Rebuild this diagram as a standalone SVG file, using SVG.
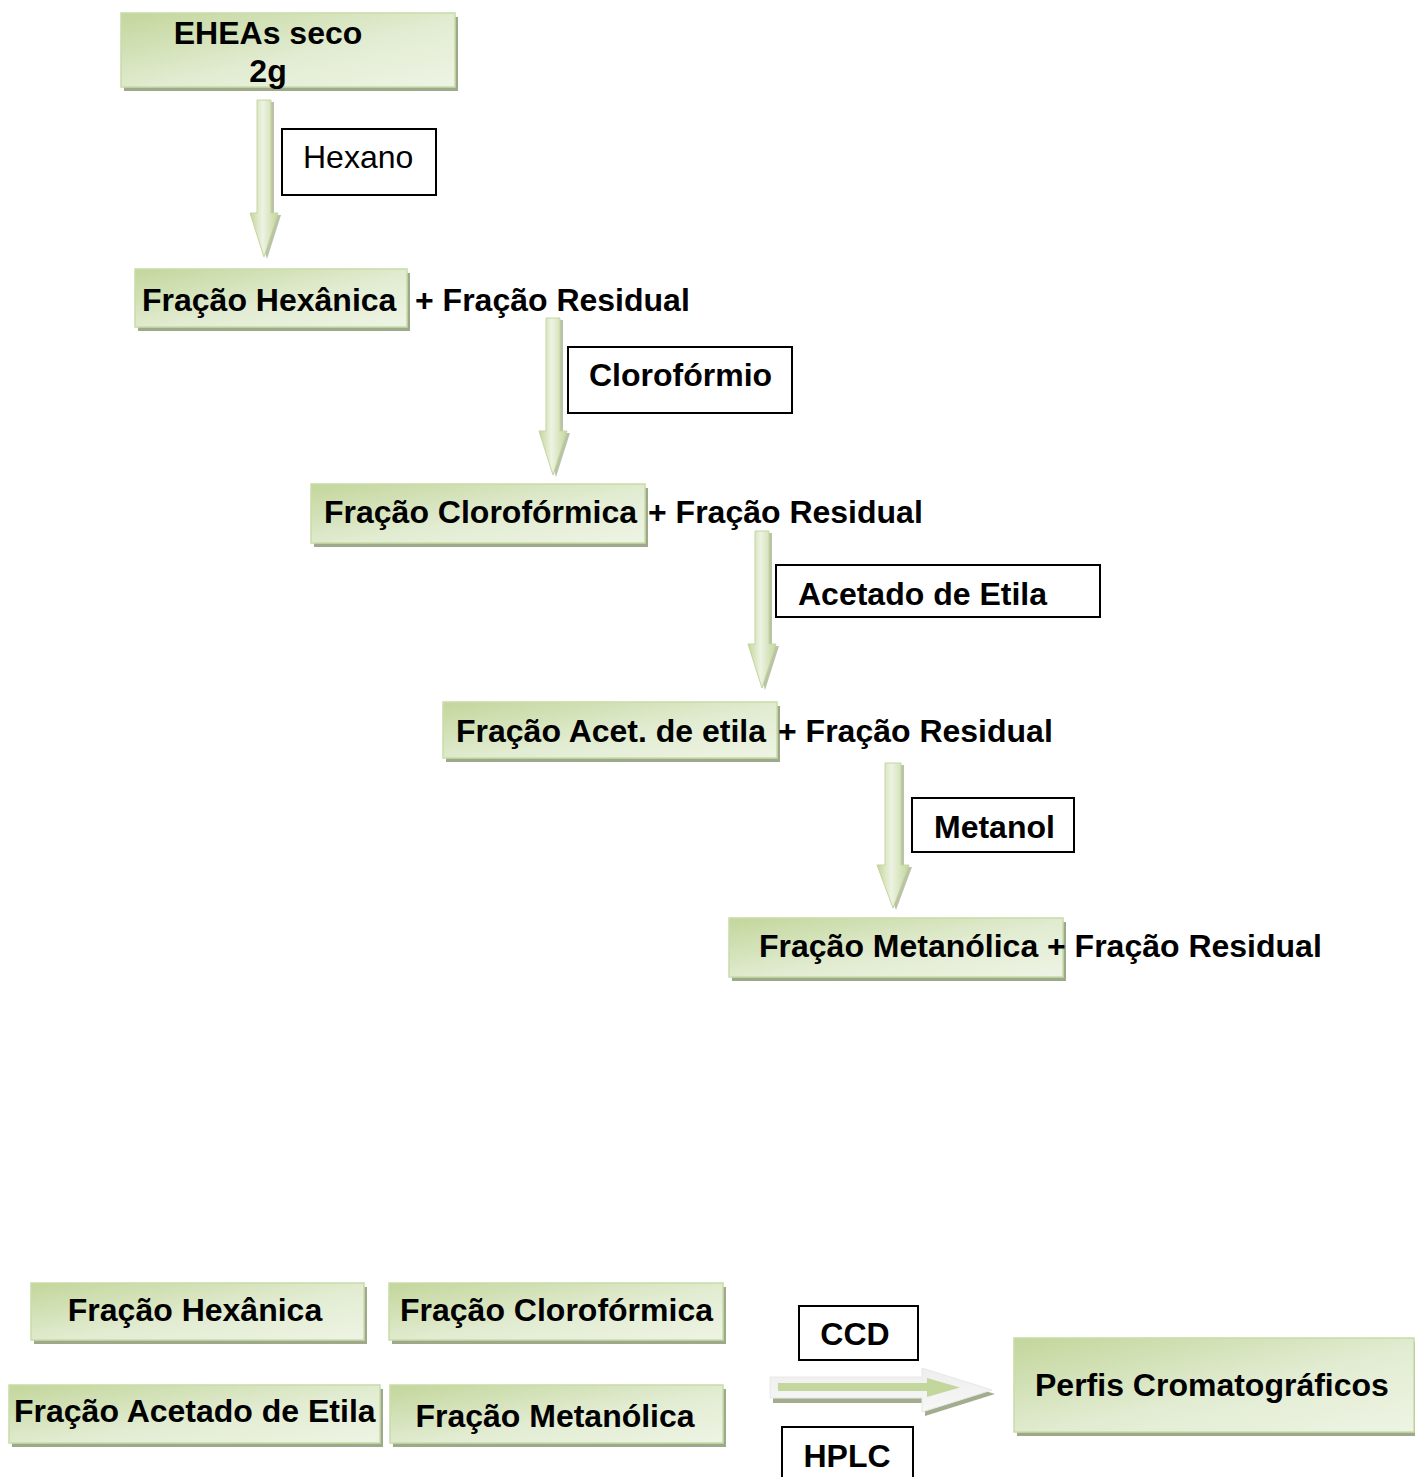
<svg xmlns="http://www.w3.org/2000/svg" width="1415" height="1477" viewBox="0 0 1415 1477">
<defs>
<linearGradient id="gbox" x1="0" y1="0" x2="1" y2="1">
<stop offset="0" stop-color="#c3d69b"/>
<stop offset="0.55" stop-color="#e2ecd2"/>
<stop offset="1" stop-color="#eef4e4"/>
</linearGradient>
<linearGradient id="garr" x1="0" y1="0" x2="1" y2="0">
<stop offset="0" stop-color="#c3d69b"/>
<stop offset="0.45" stop-color="#edf3e3"/>
<stop offset="1" stop-color="#c3d69b"/>
</linearGradient>
<linearGradient id="gbig" x1="0" y1="0" x2="0" y2="1">
<stop offset="0" stop-color="#eeeeee"/>
<stop offset="1" stop-color="#f7f7f7"/>
</linearGradient>
</defs>
<style>
.sh{fill:#9ea88a}
.bx{fill:url(#gbox);stroke:#c9dca8;stroke-width:1.5}
.lb{fill:#fff;stroke:#000;stroke-width:2}
.t{font-family:"Liberation Sans",Arial,sans-serif;font-size:32px;fill:#000}
.b{font-weight:bold}
.ar{fill:url(#garr);stroke:#c3d69b;stroke-width:1}
.as{fill:#a9b393;opacity:0.8}
</style>

<g id="n-eheas">
<rect class="sh" x="124" y="17" width="334" height="74"/>
<rect class="bx" x="121" y="13" width="334" height="74"/>
<text class="t b" x="268" y="44" text-anchor="middle">EHEAs seco</text>
<text class="t b" x="268" y="82" text-anchor="middle">2g</text>
</g>

<g id="l-hexano">
<rect class="lb" x="282" y="129" width="154" height="66"/>
<text class="t" x="303" y="168">Hexano</text>
</g>

<g id="n-hex">
<rect class="sh" x="138" y="273" width="272" height="58"/>
<rect class="bx" x="135" y="269" width="272" height="58"/>
<text class="t b" x="142" y="311">Fração Hexânica</text>
<text class="t b" x="415" y="311">+ Fração Residual</text>
</g>

<g id="l-cloro">
<rect class="lb" x="568" y="347" width="224" height="66"/>
<text class="t b" x="589" y="386">Clorofórmio</text>
</g>

<g id="n-cloro">
<rect class="sh" x="314" y="488" width="334" height="59"/>
<rect class="bx" x="311" y="484" width="334" height="59"/>
<text class="t b" x="324" y="523">Fração Clorofórmica</text>
<text class="t b" x="648" y="523">+ Fração Residual</text>
</g>

<g id="l-acet">
<rect class="lb" x="776" y="565" width="324" height="52"/>
<text class="t b" x="798" y="605">Acetado de Etila</text>
</g>

<g id="n-acet">
<rect class="sh" x="446" y="706" width="334" height="56"/>
<rect class="bx" x="443" y="702" width="334" height="56"/>
<text class="t b" x="456" y="742">Fração Acet. de etila</text>
<text class="t b" x="778" y="742">+ Fração Residual</text>
</g>

<g id="l-metanol">
<rect class="lb" x="912" y="798" width="162" height="54"/>
<text class="t b" x="934" y="838">Metanol</text>
</g>

<g id="n-met">
<rect class="sh" x="732" y="922" width="334" height="59"/>
<rect class="bx" x="729" y="918" width="334" height="59"/>
<text class="t b" x="759" y="957">Fração Metanólica</text>
<text class="t b" x="1047" y="957">+ Fração Residual</text>
</g>

<g id="n-b-hex">
<rect class="sh" x="34" y="1287" width="333" height="57"/>
<rect class="bx" x="31" y="1283" width="333" height="57"/>
<text class="t b" x="195" y="1321" text-anchor="middle">Fração Hexânica</text>
</g>

<g id="n-b-cloro">
<rect class="sh" x="392" y="1287" width="334" height="57"/>
<rect class="bx" x="389" y="1283" width="334" height="57"/>
<text class="t b" x="400" y="1321">Fração Clorofórmica</text>
</g>

<g id="n-b-acet">
<rect class="sh" x="12" y="1389" width="371" height="58"/>
<rect class="bx" x="9" y="1385" width="371" height="58"/>
<text class="t b" x="14" y="1422">Fração Acetado de Etila</text>
</g>

<g id="n-b-met">
<rect class="sh" x="393" y="1389" width="333" height="58"/>
<rect class="bx" x="390" y="1385" width="333" height="58"/>
<text class="t b" x="555" y="1427" text-anchor="middle">Fração Metanólica</text>
</g>

<g id="l-ccd">
<rect class="lb" x="799" y="1306" width="119" height="54"/>
<text class="t b" x="855" y="1345" text-anchor="middle">CCD</text>
</g>

<g id="l-hplc">
<rect class="lb" x="782" y="1427" width="131" height="60"/>
<text class="t b" x="847" y="1467" text-anchor="middle">HPLC</text>
</g>

<g id="n-perfis">
<rect class="sh" x="1017" y="1342" width="400" height="94"/>
<rect class="bx" x="1014" y="1338" width="400" height="94"/>
<text class="t b" x="1035" y="1396">Perfis Cromatográficos</text>
</g>

<g id="connectors">
<g transform="translate(264,0)">
<path class="as" d="M-4,102 H10 V215 H17 L3,259 L-11,215 H-4 Z"/>
<path class="ar" d="M-7,100 H7 V213 H14 L0,257 L-14,213 H-7 Z"/>
</g>
<g transform="translate(553,218)">
<path class="as" d="M-4,102 H10 V215 H17 L3,259 L-11,215 H-4 Z"/>
<path class="ar" d="M-7,100 H7 V213 H14 L0,257 L-14,213 H-7 Z"/>
</g>
<g transform="translate(762,431)">
<path class="as" d="M-4,102 H10 V215 H17 L3,259 L-11,215 H-4 Z"/>
<path class="ar" d="M-7,100 H7 V213 H14 L0,257 L-14,213 H-7 Z"/>
</g>
<g transform="translate(893,0)">
<path class="as" d="M-5,765 H11 V867 H19 L3,910 L-13,867 H-5 Z"/>
<path class="ar" d="M-8,763 H8 V865 H16 L0,908 L-16,865 H-8 Z"/>
</g>
<g id="big-arrow">
<path fill="#a3ad8e" d="M773,1381 H925 V1372 L995,1394 L925,1416 V1403 H773 Z"/>
<path fill="url(#gbig)" stroke="#e8e8e8" stroke-width="1" d="M770,1377 H922 V1368 L992,1390 L922,1412 V1398 H770 Z"/>
<path fill="#c3d69b" d="M778,1383 H927 V1378 L960,1387.5 L927,1397 V1391 H778 Z"/>
</g>
</g>
</svg>
